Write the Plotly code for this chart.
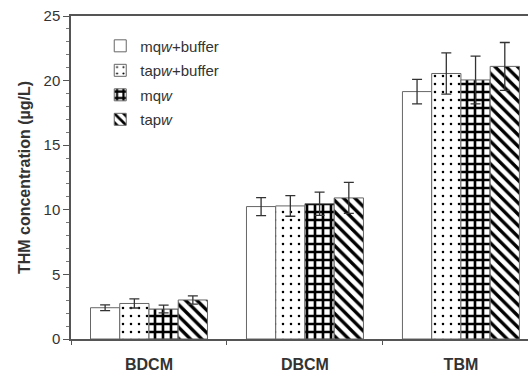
import plotly.graph_objects as go

# THM species measured in each water matrix
compounds = ["BDCM", "DBCM", "TBM"]

# Mean THM concentration (µg/L) per treatment
mqw_buffer = [2.42, 10.25, 19.15]
tapw_buffer = [2.75, 10.30, 20.55]
mqw = [2.32, 10.47, 20.05]
tapw = [3.02, 10.92, 21.10]

# Standard deviations
mqw_buffer_sd = [0.22, 0.70, 0.95]
tapw_buffer_sd = [0.35, 0.80, 1.60]
mqw_sd = [0.30, 0.90, 1.85]
tapw_sd = [0.32, 1.20, 1.85]

series_names = ["mq<i>w</i>+buffer", "tap<i>w</i>+buffer", "mq<i>w</i>", "tap<i>w</i>"]

# (name, means, sd, fill pattern, pattern cell size, pattern solidity)
series = [
    (series_names[0], mqw_buffer, mqw_buffer_sd, "", 8, 0.3),
    (series_names[1], tapw_buffer, tapw_buffer_sd, ".", 8, 0.08),
    (series_names[2], mqw, mqw_sd, "+", 8, 0.55),
    (series_names[3], tapw, tapw_sd, "\\", 8, 0.42),
]

fig = go.Figure()
for i, (name, vals, sd, shape, size, solidity) in enumerate(series):
    fig.add_trace(go.Bar(
        name=name,
        legendgroup=f"g{i}",
        x=compounds,
        y=vals,
        error_y=dict(type="data", array=sd, visible=True,
                     color="#333333", thickness=1.3, width=5),
        marker=dict(
            color="white",
            line=dict(color="#666666", width=1),
            pattern=dict(shape=shape, fgcolor="#000000", fgopacity=1, bgcolor="white",
                         size=size, solidity=solidity, fillmode="overlay"),
        ),
    ))

font = "Arial, 'Liberation Sans', Helvetica, sans-serif"
fig.update_layout(
    width=528, height=374,
    margin=dict(l=71, r=0, t=16, b=35),
    paper_bgcolor="white", plot_bgcolor="white",
    barmode="group", bargap=0.25, bargroupgap=0,
    font=dict(family=font, color="#333333"),
    showlegend=True,
    legend=dict(x=0.064, y=0.958, xanchor="left", yanchor="top",
                bgcolor="rgba(0,0,0,0)", font=dict(size=15, color="#333333"),
                tracegroupgap=2, itemwidth=30),
    xaxis=dict(
        type="category", range=[-0.5, 2.43],
        showline=True, linecolor="#555555", linewidth=1.5, mirror=True,
        ticks="outside", tickson="boundaries", ticklen=4, tickcolor="#555555",
        ticklabelstandoff=10,
        tickfont=dict(size=16, family=font, color="#333333", weight="bold"),
        showgrid=False,
    ),
    yaxis=dict(
        range=[0, 25], tickvals=[0, 5, 10, 15, 20, 25],
        showline=True, linecolor="#555555", linewidth=1.5,
        ticks="outside", ticklen=6, tickcolor="#555555",
        minor=dict(dtick=1, ticks="outside", ticklen=3, tickcolor="#777777"),
        tickfont=dict(size=15, color="#333333"),
        showgrid=False, zeroline=False,
        title=dict(text="<b>THM concentration (µg/L)</b>",
                   font=dict(size=16, color="#333333"), standoff=9),
    ),
)

fig.write_html("out.html")
